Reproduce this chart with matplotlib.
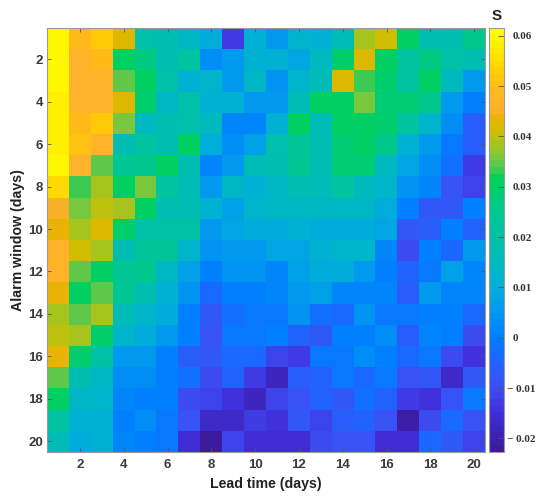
"""Heat map of S against lead time and alarm window"""

import matplotlib
matplotlib.use("Agg")
import matplotlib.pyplot as plt
from matplotlib.colors import LinearSegmentedColormap
from matplotlib.transforms import ScaledTranslation
import numpy as np

lead_ticks = [2, 4, 6, 8, 10, 12, 14, 16, 18, 20]
window_ticks = [2, 4, 6, 8, 10, 12, 14, 16, 18, 20]
cbar_ticks = [-0.02, -0.01, 0, 0.01, 0.02, 0.03, 0.04, 0.05, 0.06]
cbar_labels = ["\u2212 0.02", "\u2212 0.01", "0", "0.01", "0.02", "0.03",
               "0.04", "0.05", "0.06"]

# one row per alarm window, one column per lead time
s_values = np.array([
    [.060, .049, .052, .042, .019, .017, .014, .010, -.013, .011, .005, .012, .011, .016, .039, .041, .030, .018, .017, .026],
    [.060, .047, .049, .031, .027, .018, .021, .003, .006, .011, .011, .008, .015, .029, .042, .030, .022, .027, .020, .018],
    [.060, .047, .047, .035, .030, .020, .011, .012, .006, .014, .004, .012, .016, .042, .033, .029, .022, .031, .015, .005],
    [.058, .046, .046, .042, .029, .013, .019, .011, .011, .006, .005, .016, .030, .031, .036, .028, .028, .026, .005, .000],
    [.058, .049, .052, .036, .015, .017, .019, .015, .002, .002, .011, .031, .016, .031, .031, .029, .021, .012, .003, -.006],
    [.058, .051, .046, .018, .021, .018, .031, .009, .003, .007, .019, .023, .018, .028, .030, .026, .011, .006, -.001, -.006],
    [.060, .046, .035, .024, .025, .030, .017, .002, .006, .016, .017, .024, .017, .028, .028, .015, .008, .003, -.002, -.013],
    [.055, .033, .038, .031, .036, .022, .016, .006, .014, .011, .014, .018, .016, .021, .015, .012, .004, .002, -.009, -.011],
    [.045, .036, .040, .038, .030, .018, .018, .011, .007, .012, .013, .013, .014, .013, .013, .010, .001, -.007, -.008, .000],
    [.044, .039, .043, .029, .020, .020, .020, .006, .008, .010, .009, .011, .009, .010, .010, .008, -.008, -.006, .001, -.005],
    [.047, .041, .038, .018, .023, .023, .012, .004, .005, .005, .008, .008, .011, .012, .012, .002, -.010, .001, -.004, .005],
    [.047, .035, .031, .024, .026, .014, .007, .001, .004, .004, .002, .007, .009, .010, .005, .000, -.005, -.001, .007, .002],
    [.044, .031, .034, .024, .018, .011, .004, -.003, .001, .001, .002, .006, .007, .002, .002, .002, -.006, .006, .002, .002],
    [.038, .034, .039, .016, .012, .009, .001, -.007, -.002, -.001, -.001, .004, -.002, -.004, .004, -.001, -.001, .001, .001, -.004],
    [.040, .038, .029, .012, .010, .005, .000, -.009, -.001, -.001, .000, -.005, -.007, .001, .001, .003, -.006, .002, .000, -.010],
    [.044, .029, .020, .006, .006, .001, -.006, -.007, -.003, -.004, -.012, -.013, -.001, -.001, .003, .000, -.004, -.001, -.010, -.014],
    [.034, .017, .014, .003, .003, .000, -.002, -.010, -.005, -.013, -.018, -.006, -.005, -.001, -.003, -.001, -.009, -.007, -.017, -.008],
    [.030, .013, .012, .002, .001, .000, -.010, -.011, -.014, -.018, -.011, -.009, -.005, -.007, -.002, -.005, -.013, -.014, -.009, -.001],
    [.021, .011, .011, .000, .003, -.001, -.009, -.017, -.017, -.013, -.014, -.008, -.011, -.006, -.005, -.009, -.021, -.010, -.004, -.009],
    [.016, .010, .011, .002, .000, -.001, -.015, -.022, -.012, -.015, -.016, -.016, -.010, -.009, -.009, -.015, -.015, -.003, -.008, -.011],
])

VMIN, VMAX = -0.0227, 0.0616
TEXT_COLOR = "#3a3a3a"
BOX_COLOR = "#9a9a9a"

# colour stops picked off the reference colour bar
stops = [(-0.0227, "#3c1a9e"), (-0.015, "#4030dc"), (-0.01, "#3c50f4"),
         (-0.004, "#1a68ff"), (0.0, "#0080ff"), (0.005, "#0098f0"),
         (0.01, "#00b0d8"), (0.016, "#00bcb8"), (0.025, "#00c890"),
         (0.032, "#00d258"), (0.034, "#50c850"), (0.037, "#88c838"),
         (0.041, "#ccc000"), (0.044, "#e8b400"), (0.046, "#ffb030"),
         (0.050, "#ffbc18"), (0.054, "#ffd400"), (0.0616, "#ffff00")]
positions = [(val - VMIN) / (VMAX - VMIN) for val, _ in stops]
cmap = LinearSegmentedColormap.from_list(
    "s_map", list(zip(positions, [col for _, col in stops])), N=64)

fig = plt.figure(figsize=(5.5, 4.98), dpi=100)
ax = fig.add_axes([47.3 / 550, 1 - 451.7 / 498, 437.7 / 550, 424 / 498])
cax = fig.add_axes([489 / 550, 1 - 452 / 498, 15 / 550, 424.3 / 498])

mesh = ax.imshow(s_values, cmap=cmap, vmin=VMIN, vmax=VMAX, aspect="auto",
                 extent=(0.5, 20.5, 20.5, 0.5), interpolation="nearest")

ax.set_xticks(lead_ticks)
ax.set_yticks(window_ticks)
ax.tick_params(direction="in", length=3, width=0.6, color="#555555",
               top=True, right=True, labelcolor=TEXT_COLOR)
ax.tick_params(axis="x", pad=5)
ax.tick_params(axis="y", pad=3)
for label in ax.get_xticklabels() + ax.get_yticklabels():
    label.set_family("Liberation Sans")
    label.set_fontweight("bold")
    label.set_fontsize(9.5)
for spine in ax.spines.values():
    spine.set_color(BOX_COLOR)
    spine.set_linewidth(0.8)

ax.set_xlabel("Lead time (days)", family="Liberation Sans", fontweight="bold",
              fontsize=10.2, color="#222222")
ax.set_ylabel("Alarm window (days)", family="Liberation Sans",
              fontweight="bold", fontsize=10.2, color="#222222")
ax.xaxis.set_label_coords(0.5, -25 / 424)
ax.yaxis.set_label_coords(-22 / 437.7, 0.5)

cbar = fig.colorbar(mesh, cax=cax)
cbar.set_ticks(cbar_ticks, labels=cbar_labels)
cbar.ax.tick_params(direction="in", length=4, width=0.6, color="#555555",
                    labelcolor="#333333", pad=6)
for label, text in zip(cbar.ax.get_yticklabels(), cbar_labels):
    label.set_family("Liberation Serif")
    label.set_fontweight("bold")
    label.set_fontsize(8)
    # negative labels start a little further left in the reference
    if text.startswith("\u2212"):
        label.set_transform(label.get_transform()
                            + ScaledTranslation(-4 / 72, 0, fig.dpi_scale_trans))
cbar.outline.set_edgecolor(BOX_COLOR)
cbar.outline.set_linewidth(0.8)

fig.text(496.5 / 550, 1 - 16 / 498, "S", family="Liberation Sans",
         fontweight="bold", fontsize=11, color="#222222", ha="center",
         va="center")

fig.savefig("out.png", dpi=100)
